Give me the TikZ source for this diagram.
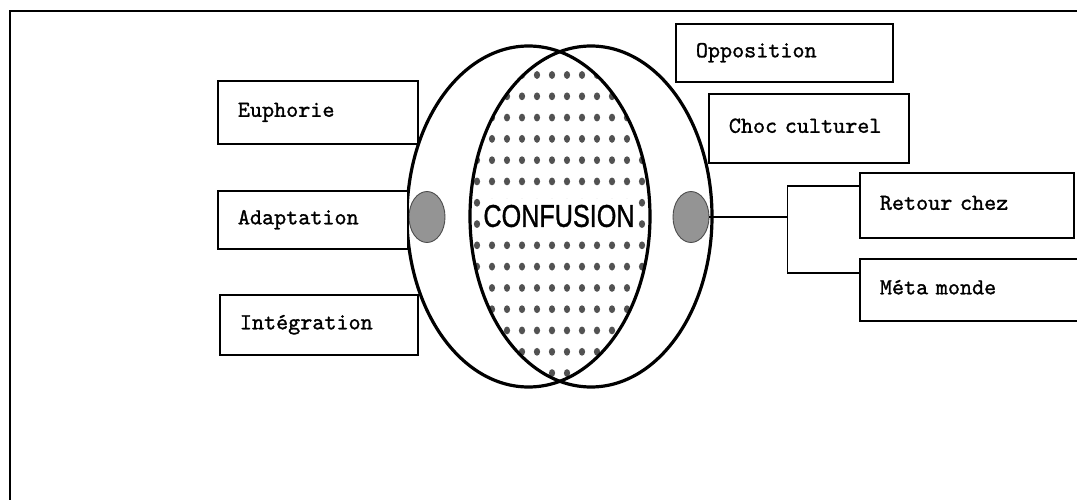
\documentclass[tikz,border=0pt]{standalone}
\usepackage{fontspec}
\newfontfamily\confusionfont{Liberation Sans}[FakeBold=1.2]
\newfontface\stagefont{lmmono10-regular.otf}[FakeBold=1.2]
\usetikzlibrary{shapes.geometric}
\tikzset{
  stage/.style={draw, fill=white, line width=1.8pt, anchor=north west, inner xsep=20pt, inner ysep=0pt, align=left,
    font=\stagefont\fontsize{23}{26}\selectfont, text height=13.6pt, text depth=4.8pt},
  phase/.style={ellipse, draw=black!70, line width=0.9pt, fill=black!42, minimum width=36pt, minimum height=51pt, inner sep=0pt},
  wire/.style={line width=1.8pt},
  ring/.style={line width=3.2pt},
  speck/.style={fill=black!68}
}

\begin{document}
\begin{tikzpicture}[x=1pt, y=-1pt]
  \useasboundingbox (0,0) rectangle (1077,500);
  \fill[white] (0,0) rectangle (1077,500);
  \draw[line width=2.2pt] (10,520) -- (10,11) -- (1090,11);
  \begin{scope}
    \clip (528.5,216.5) ellipse [x radius=121.5, y radius=170.5];
    \clip (591,216.5) ellipse [x radius=121, y radius=170.5];
    \foreach \j in {0,...,14}
      \foreach \k in {0,...,11}
        \fill[speck] (477+15*\k, 75+21.29*\j) ellipse [x radius=3.1, y radius=3.9];
  \end{scope}
  \node[fill=white, inner xsep=0pt, inner ysep=6pt, xscale=.8, transform shape,
    font=\confusionfont\fontsize{31.5}{32}\selectfont] (conf) at (559,216) {CONFUSION};
  \draw[ring] (528.5,216.5) ellipse [x radius=121.5, y radius=170.5];
  \draw[ring] (591,216.5) ellipse [x radius=121, y radius=170.5];
  \node[phase] (adot) at (427,217) {};
  \node[phase] (rdot) at (691,217) {};
  \node[stage, text width=160pt, minimum height=63pt] (euph) at (217,80) {Euphorie};
  \node[stage, text width=150pt, minimum height=58pt] (adapt) at (217,190) {Adaptation};
  \node[stage, text width=158pt, minimum height=60pt] (integ) at (219,294) {Intégration};
  \node[stage, text width=177pt, minimum height=58pt] (oppo) at (675,23) {Opposition};
  \node[stage, text width=160pt, minimum height=69pt] (choc) at (708,93) {Choc culturel};
  \node[stage, text width=174pt, minimum height=65pt] (retour) at (859,172) {Retour chez};
  \node[stage, text width=190pt, minimum height=62pt] (meta) at (859,258) {Méta monde};
  \draw[wire] (rdot.east) -- ++(78,0) coordinate (fork);
  \draw[wire] (fork) |- ([yshift=19.5pt]retour.west);
  \draw[wire] (fork) |- ([yshift=17pt]meta.west);
\end{tikzpicture}
\end{document}
